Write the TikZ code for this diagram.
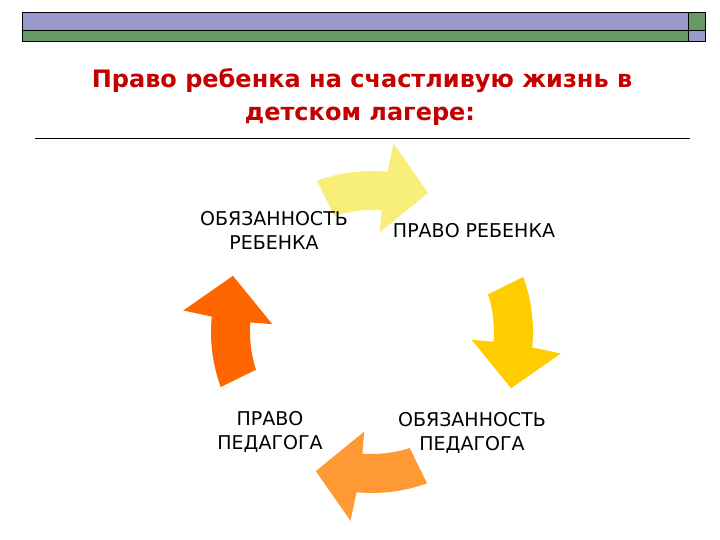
\documentclass[tikz,border=0pt]{standalone}
\usepackage{fontspec}
\setmainfont{DejaVu Sans}
\definecolor{barblue}{RGB}{153,153,204}
\definecolor{bargreen}{RGB}{102,153,102}
\definecolor{ttlred}{RGB}{196,0,0}
\definecolor{arrY}{RGB}{247,239,122}
\definecolor{arrG}{RGB}{255,204,0}
\definecolor{arrO}{RGB}{255,153,51}
\definecolor{arrR}{RGB}{255,102,0}
\tikzset{
  lbl/.style={inner sep=0pt, align=center, text=black, font=\fontsize{19}{24}\selectfont},
  ttl/.style={inner sep=0pt, anchor=base, text=ttlred, font=\bfseries\fontsize{24}{30}\selectfont},
  barline/.style={draw=black, line width=0.8pt}
}
\begin{document}
\begin{tikzpicture}[x=1pt,y=-1pt]
\useasboundingbox (0,0) rectangle (720,540);
% top bar
\fill[barblue] (22,12) rectangle (688,30);
\fill[bargreen] (22,30) rectangle (688,41);
\fill[bargreen] (688,12) rectangle (705,30);
\fill[barblue] (688,30) rectangle (705,41);
\draw[barline] (22,12) rectangle (705,41);
\draw[barline] (688,12) -- (688,41);
\draw[barline] (22,30) -- (705,30);
% title
\node[ttl] (t1) at (362,88) {Право ребенка на счастливую жизнь в};
\node[ttl] (t2) at (360,121) {детском лагере:};
\draw[line width=0.8pt] (35,138) -- (690,138);
% cycle arrows
\begin{scope}[shift={(372,332)}]
\foreach \t/\c in {90/arrY, 0/arrG, -90/arrO, 180/arrR}{
  \fill[\c] ({\t+20}:161pt) arc[start angle=\t+20, end angle=\t-5.5, radius=161pt]
    -- ({\t-6.5}:190pt) -- ({\t-22}:150pt) -- ({\t-4.5}:100pt) -- ({\t-4.5}:122pt)
    arc[start angle=\t-4.5, end angle=\t+18, radius=122pt] -- cycle;
}
\end{scope}
% labels
\node[lbl] (obr) at (274,230) {ОБЯЗАННОСТЬ\\РЕБЕНКА};
\node[lbl] (prr) at (474,231) {ПРАВО РЕБЕНКА};
\node[lbl] (prp) at (270,432) {ПРАВО\\ПЕДАГОГА};
\node[lbl] (obp) at (472,433) {ОБЯЗАННОСТЬ\\ПЕДАГОГА};
\end{tikzpicture}
\end{document}
